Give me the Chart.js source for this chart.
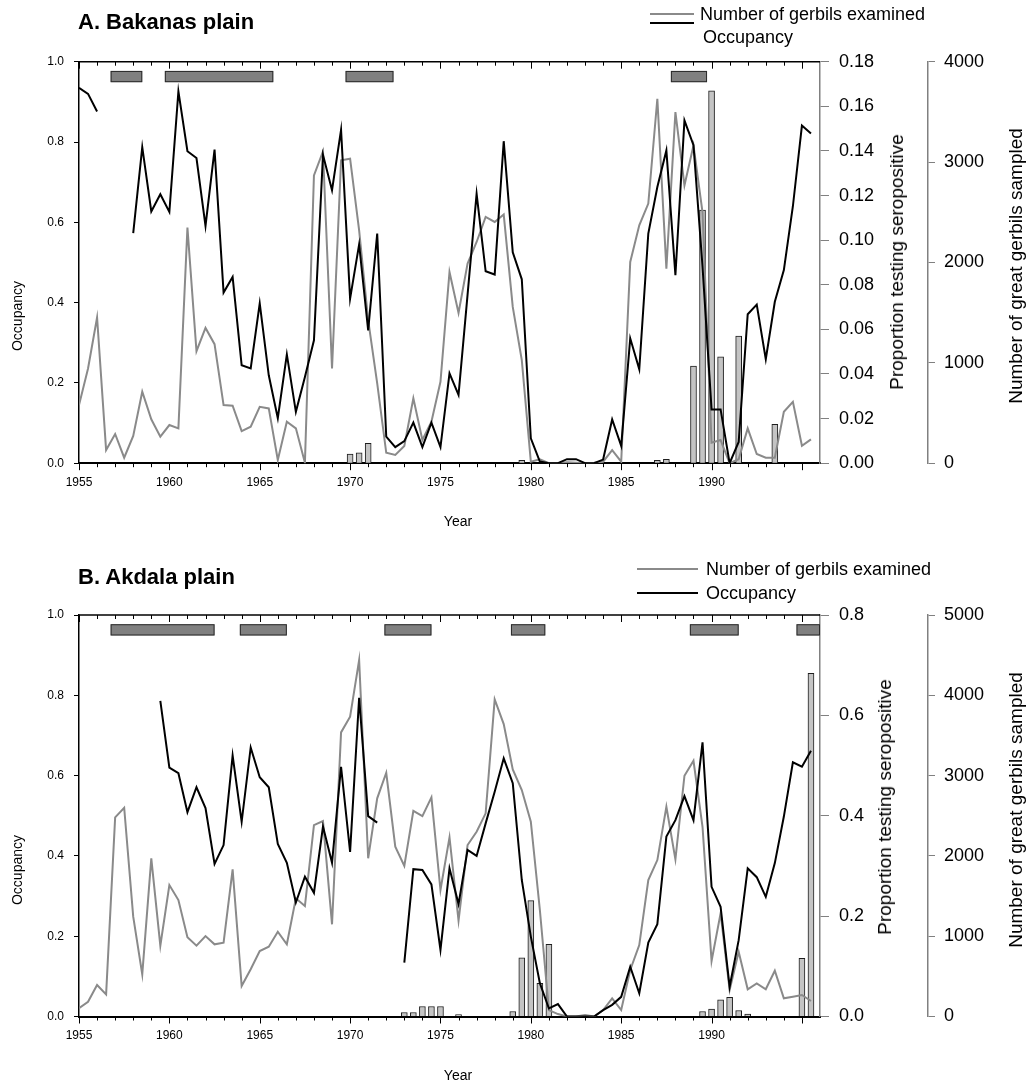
<!DOCTYPE html>
<html>
<head>
<meta charset="utf-8">
<script src="https://cdn.jsdelivr.net/npm/chart.js@4.4.1/dist/chart.umd.min.js"></script>
<style>
  body { margin: 0; background: #fff; font-family: "Liberation Sans", Arial, sans-serif; color: #000; }
  .box { position: absolute; left: 0; width: 1027px; }
  .title { position: absolute; font-weight: bold; font-size: 22px; line-height: 26px; white-space: nowrap; }
  .legtxt { position: absolute; font-size: 18px; line-height: 20px; white-space: nowrap; }
  .legline { position: absolute; height: 2px; }
  .rtitle { position: absolute; font-size: 19px; line-height: 22px; white-space: nowrap;
            transform: translate(-50%, -50%) rotate(-90deg); }
  .ltitle { position: absolute; font-size: 14px; line-height: 16px; white-space: nowrap;
            transform: translate(-50%, -50%) rotate(-90deg); }
  .xtitle { position: absolute; font-size: 14px; line-height: 16px; white-space: nowrap;
            transform: translate(-50%, -50%); }
</style>
</head>
<body>

<div class="box" style="top:0;height:545px"><canvas id="chartA" width="1027" height="545"></canvas></div>
<div class="box" style="top:545px;height:542px"><canvas id="chartB" width="1027" height="542"></canvas></div>

<div class="title" style="left:78px;top:9px">A. Bakanas plain</div>
<div class="legline" style="left:650px;top:13px;width:44px;background:#8a8a8a"></div>
<div class="legline" style="left:650px;top:22px;width:44px;background:#000"></div>
<div class="legtxt" style="left:700px;top:4px">Number of gerbils examined</div>
<div class="legtxt" style="left:703px;top:27px">Occupancy</div>
<div class="ltitle" style="left:17px;top:316px">Occupancy</div>
<div class="xtitle" style="left:458px;top:521px">Year</div>
<div class="rtitle" style="left:897px;top:262px">Proportion testing seropositive</div>
<div class="rtitle" style="left:1016px;top:266px">Number of great gerbils sampled</div>

<div class="title" style="left:78px;top:564px">B. Akdala plain</div>
<div class="legline" style="left:637px;top:568px;width:61px;background:#8a8a8a"></div>
<div class="legline" style="left:637px;top:592px;width:61px;background:#000"></div>
<div class="legtxt" style="left:706px;top:559px">Number of gerbils examined</div>
<div class="legtxt" style="left:706px;top:583px">Occupancy</div>
<div class="ltitle" style="left:17px;top:870px">Occupancy</div>
<div class="xtitle" style="left:458px;top:1075px">Year</div>
<div class="rtitle" style="left:885px;top:807px">Proportion testing seropositive</div>
<div class="rtitle" style="left:1016px;top:810px">Number of great gerbils sampled</div>

<script>
// half-yearly surveys (spring / autumn)
const years = [
  1955, 1955.5, 1956, 1956.5, 1957, 1957.5, 1958, 1958.5, 1959, 1959.5,
  1960, 1960.5, 1961, 1961.5, 1962, 1962.5, 1963, 1963.5, 1964, 1964.5,
  1965, 1965.5, 1966, 1966.5, 1967, 1967.5, 1968, 1968.5, 1969, 1969.5,
  1970, 1970.5, 1971, 1971.5, 1972, 1972.5, 1973, 1973.5, 1974, 1974.5,
  1975, 1975.5, 1976, 1976.5, 1977, 1977.5, 1978, 1978.5, 1979, 1979.5,
  1980, 1980.5, 1981, 1981.5, 1982, 1982.5, 1983, 1983.5, 1984, 1984.5,
  1985, 1985.5, 1986, 1986.5, 1987, 1987.5, 1988, 1988.5, 1989, 1989.5,
  1990, 1990.5, 1991, 1991.5, 1992, 1992.5, 1993, 1993.5, 1994, 1994.5,
  1995, 1995.5
];

// A. Bakanas plain
const occA = [
  0.935, 0.920, 0.876, null, null, null, 0.573, 0.787, 0.627, 0.670,
  0.626, 0.926, 0.777, 0.760, 0.591, 0.781, 0.425, 0.464, 0.244, 0.236,
  0.398, 0.219, 0.112, 0.271, 0.128, 0.215, 0.306, 0.768, 0.680, 0.830,
  0.410, 0.545, 0.331, 0.572, 0.066, 0.040, 0.055, 0.101, 0.040, 0.101,
  0.040, 0.224, 0.170, 0.420, 0.671, 0.478, 0.470, 0.802, 0.525, 0.458,
  0.062, 0.004, 0.000, 0.000, 0.010, 0.010, 0.000, 0.000, 0.009, 0.109,
  0.043, 0.311, 0.234, 0.572, 0.688, 0.779, 0.468, 0.854, 0.792, 0.490,
  0.134, 0.134, 0.000, 0.053, 0.371, 0.395, 0.259, 0.402, 0.481, 0.640,
  0.841, 0.821
];
const numA = [
  579, 944, 1452, 131, 291, 55, 271, 712, 437, 264,
  380, 347, 2347, 1116, 1348, 1186, 579, 572, 320, 363,
  562, 546, 32, 413, 347, 5, 2868, 3106, 944, 3017,
  3034, 2320, 1425, 795, 104, 82, 171, 646, 231, 413,
  811, 1905, 1497, 1989, 2204, 2453, 2403, 2477, 1557, 1027,
  15, 39, 0, 0, 10, 5, 0, 5, 15, 131,
  15, 2005, 2370, 2586, 3631, 1939, 3498, 2768, 3166, 2500,
  204, 231, 0, 39, 347, 92, 55, 55, 512, 612,
  174, 238
];
const seroYearsA = [1970, 1970.5, 1971, 1979.5, 1987, 1987.5, 1989, 1989.5, 1990, 1990.5, 1991.5, 1993.5];
const seroA = [0.0041, 0.0047, 0.0089, 0.0013, 0.0013, 0.0017, 0.0435, 0.1135, 0.1669, 0.0477, 0.0570, 0.0174];
const epiStartA = [1956.75, 1959.75, 1969.75, 1987.75];
const epiEndA = [1958.5, 1965.75, 1972.4, 1989.75];

// B. Akdala plain
const occB = [
  null, null, null, null, null, null, null, null, null, 0.786,
  0.620, 0.606, 0.509, 0.571, 0.519, 0.380, 0.427, 0.650, 0.485, 0.670,
  0.596, 0.571, 0.430, 0.383, 0.284, 0.348, 0.308, 0.473, 0.383, 0.622,
  0.410, 0.794, 0.499, 0.483, null, null, 0.134, 0.367, 0.365, 0.329,
  0.166, 0.369, 0.280, 0.415, 0.400, 0.481, 0.560, 0.643, 0.581, 0.340,
  0.199, 0.083, 0.020, 0.031, 0.000, 0.000, 0.000, 0.000, 0.016, 0.029,
  0.049, 0.124, 0.058, 0.184, 0.230, 0.448, 0.489, 0.549, 0.489, 0.683,
  0.323, 0.273, 0.074, 0.190, 0.369, 0.347, 0.298, 0.382, 0.498, 0.633,
  0.622, 0.662
];
const numB = [
  102, 184, 392, 276, 2480, 2600, 1243, 525, 1970, 882,
  1637, 1450, 986, 882, 1002, 899, 919, 1833, 380, 588,
  815, 869, 1056, 899, 1472, 1376, 2384, 2434, 1148, 3538,
  3733, 4438, 1970, 2717, 3035, 2114, 1874, 2562, 2496, 2729,
  1575, 2231, 1193, 2135, 2301, 2530, 3949, 3642, 3077, 2820,
  2425, 1326, 80, 30, 0, 0, 20, 0, 80, 226,
  80, 579, 890, 1699, 1948, 2612, 1957, 2998, 3185, 2363,
  691, 1285, 330, 807, 339, 413, 339, 570, 226, 247,
  268, 193
];
const seroYearsB = [1973, 1973.5, 1974, 1974.5, 1975, 1976, 1979, 1979.5, 1980, 1980.5, 1981,
                    1989.5, 1990, 1990.5, 1991, 1991.5, 1992, 1995, 1995.5];
const seroB = [0.008, 0.008, 0.02, 0.02, 0.02, 0.004, 0.01, 0.117, 0.231, 0.066, 0.144,
               0.01, 0.015, 0.033, 0.038, 0.012, 0.005, 0.116, 0.684];
const epiStartB = [1956.75, 1963.9, 1971.9, 1978.9, 1988.8, 1994.7];
const epiEndB = [1962.5, 1966.5, 1974.5, 1980.8, 1991.5, 1996];

Chart.defaults.font.family = '"Liberation Sans", Arial, sans-serif';
Chart.defaults.color = '#000';

// top frame line, year ticks on both x edges, epizootic period boxes
const framePlugin = {
  id: 'frame',
  afterDatasetsDraw(chart, args, opts) {
    const { ctx, chartArea: a } = chart;
    const x = chart.scales.x, y = chart.scales.y;
    ctx.save();
    ctx.beginPath();
    ctx.rect(a.left, a.top - 1, a.right - a.left, a.bottom - a.top + 2);
    ctx.clip();
    const yt = y.getPixelForValue(0.977), yb = y.getPixelForValue(0.949);
    opts.starts.forEach((s, k) => {
      const x0 = x.getPixelForValue(s), x1 = x.getPixelForValue(opts.ends[k]);
      ctx.fillStyle = '#808080';
      ctx.fillRect(x0, yt, x1 - x0, yb - yt);
      ctx.strokeStyle = '#2a2a2a';
      ctx.lineWidth = 1;
      ctx.strokeRect(x0 + 0.5, yt + 0.5, x1 - x0 - 1, yb - yt - 1);
    });
    ctx.restore();

    ctx.save();
    ctx.strokeStyle = '#000';
    ctx.lineWidth = 1.5;
    ctx.beginPath();
    ctx.moveTo(a.left, a.top);
    ctx.lineTo(a.right, a.top);
    ctx.stroke();
    ctx.lineWidth = 1;
    ctx.beginPath();
    for (let yr = Math.ceil(x.min); yr < x.max; yr++) {
      const px = Math.round(x.getPixelForValue(yr)) + 0.5;
      const len = yr % 5 === 0 ? 7 : 4;
      ctx.moveTo(px, a.bottom);
      ctx.lineTo(px, a.bottom + len);
      ctx.moveTo(px, a.top);
      ctx.lineTo(px, a.top + len);
    }
    ctx.stroke();
    ctx.restore();
  }
};

function makePanel(id, occ, num, seroYears, sero, epiStart, epiEnd, cfg) {
  const seroData = seroYears.map((yr, k) => ({ x: yr, y: sero[k] }));
  return new Chart(document.getElementById(id), {
    type: 'line',
    data: {
      datasets: [
        {
          label: 'Occupancy',
          data: years.map((yr, i) => ({ x: yr, y: occ[i] })),
          yAxisID: 'y',
          borderColor: '#000',
          borderWidth: 2,
          pointRadius: 0,
          spanGaps: false,
          order: 1
        },
        {
          label: 'Number of gerbils examined',
          data: years.map((yr, i) => ({ x: yr, y: num[i] })),
          yAxisID: 'y3',
          borderColor: '#8a8a8a',
          borderWidth: 2,
          pointRadius: 0,
          spanGaps: false,
          order: 2
        },
        {
          type: 'bar',
          label: 'Proportion testing seropositive',
          data: seroData,
          yAxisID: 'y2',
          backgroundColor: '#c4c4c4',
          borderColor: '#1e1e1e',
          borderWidth: 1,
          barThickness: 6,
          order: 3
        }
      ]
    },
    options: {
      responsive: false,
      animation: false,
      devicePixelRatio: 1,
      layout: { padding: { top: cfg.top, left: 0, right: 0, bottom: 0 } },
      plugins: {
        legend: { display: false },
        tooltip: { enabled: false },
        frame: { starts: epiStart, ends: epiEnd }
      },
      scales: {
        x: {
          type: 'linear',
          offset: false,
          min: 1955,
          max: 1996,
          grid: { display: false, drawTicks: false, offset: false },
          border: { display: true, color: '#000', width: 2 },
          ticks: {
            stepSize: 5,
            maxRotation: 0,
            autoSkip: false,
            padding: 12,
            font: { size: 12 },
            callback: v => (v % 5 === 0 ? String(v) : '')
          },
          afterFit: s => { s.height = cfg.xh; }
        },
        y: {
          position: 'left',
          min: 0,
          max: 1,
          grid: { drawOnChartArea: false, drawTicks: true, tickLength: 5, color: '#000' },
          border: { display: true, color: '#000', width: 1.5 },
          ticks: { stepSize: 0.2, padding: 10, font: { size: 12 }, callback: v => v.toFixed(1) },
          afterFit: s => { s.width = 79; }
        },
        y2: {
          position: 'right',
          min: 0,
          max: cfg.seroMax,
          grid: { drawOnChartArea: false, drawTicks: true, tickLength: 9, color: '#808080' },
          border: { display: true, color: '#808080', width: 1.5 },
          ticks: { stepSize: cfg.seroStep, padding: 10, font: { size: 18 }, callback: v => v.toFixed(cfg.seroDigits) },
          afterFit: s => { s.width = 108; }
        },
        y3: {
          position: 'right',
          min: 0,
          max: cfg.numMax,
          grid: { drawOnChartArea: false, drawTicks: true, tickLength: 7, color: '#808080' },
          border: { display: true, color: '#808080', width: 1.5 },
          ticks: { stepSize: 1000, padding: 9, font: { size: 18 }, callback: v => String(v) },
          afterFit: s => { s.width = 99; }
        }
      }
    },
    plugins: [framePlugin]
  });
}

makePanel('chartA', occA, numA, seroYearsA, seroA, epiStartA, epiEndA,
  { top: 61.7, xh: 81.8, seroMax: 0.18, seroStep: 0.02, seroDigits: 2, numMax: 4000 });
makePanel('chartB', occB, numB, seroYearsB, seroB, epiStartB, epiEndB,
  { top: 70, xh: 70.5, seroMax: 0.8, seroStep: 0.2, seroDigits: 1, numMax: 5000 });
</script>
</body>
</html>
